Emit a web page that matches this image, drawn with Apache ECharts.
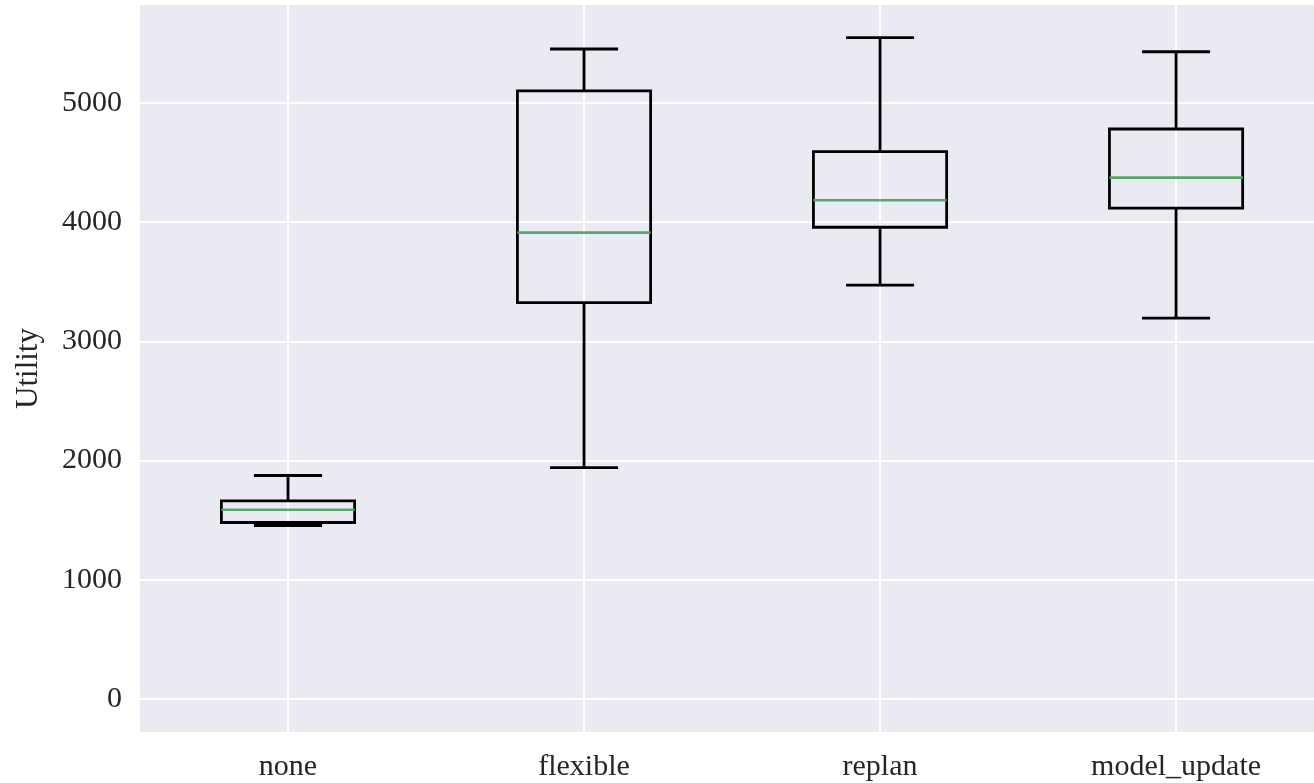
<!DOCTYPE html>
<html>
<head>
<meta charset="utf-8">
<title>Utility</title>
<script src="https://cdn.jsdelivr.net/npm/echarts@6/dist/echarts.min.js"></script>
<style>
  html, body { margin: 0; padding: 0; background: #fff; }
  #chart { width: 1314px; height: 783px; }
</style>
</head>
<body>
<div id="chart"></div>
<script>
var categories = ['none', 'flexible', 'replan', 'model_update'];
var whiskerLow = [1455, 1941, 3470, 3194];
var q1 = [1480, 3324, 3956, 4116];
var median = [1587, 3911, 4183, 4372];
var q3 = [1662, 5099, 4590, 4780];
var whiskerHigh = [1874, 5451, 5546, 5428];
var yTicks = [0, 1000, 2000, 3000, 4000, 5000];

var boxData = categories.map(function (c, i) {
	return [i, whiskerLow[i], q1[i], median[i], q3[i], whiskerHigh[i]];
});

var textColor = '#262626';
var fontFamily = '"Liberation Serif", "Times New Roman", serif';

// matplotlib-like box: half-width caps, green median
function renderBox(params, api) {
	var x = api.value(0);
	var band = api.size([1, 0])[0];
	var halfBox = band * 0.225;
	var halfCap = band * 0.115;
	var pLow = api.coord([x, api.value(1)]);
	var pQ1 = api.coord([x, api.value(2)]);
	var pMed = api.coord([x, api.value(3)]);
	var pQ3 = api.coord([x, api.value(4)]);
	var pHigh = api.coord([x, api.value(5)]);
	var cx = pQ1[0];
	var black = { stroke: '#000', lineWidth: 2.8, fill: null };
	return {
		type: 'group',
		children: [
			{ type: 'line', shape: { x1: cx, y1: pQ1[1], x2: cx, y2: pLow[1] }, style: black },
			{ type: 'line', shape: { x1: cx, y1: pQ3[1], x2: cx, y2: pHigh[1] }, style: black },
			{ type: 'line', shape: { x1: cx - halfCap, y1: pLow[1], x2: cx + halfCap, y2: pLow[1] }, style: black },
			{ type: 'line', shape: { x1: cx - halfCap, y1: pHigh[1], x2: cx + halfCap, y2: pHigh[1] }, style: black },
			{ type: 'rect', shape: { x: cx - halfBox, y: pQ3[1], width: halfBox * 2, height: pQ1[1] - pQ3[1] }, style: { stroke: '#000', lineWidth: 2.8, fill: 'rgba(0,0,0,0)' } },
			{ type: 'line', shape: { x1: cx - halfBox, y1: pMed[1], x2: cx + halfBox, y2: pMed[1] }, style: { stroke: '#55A868', lineWidth: 2.6 } }
		]
	};
}

var option = {
	animation: false,
	backgroundColor: '#ffffff',
	grid: {
		left: 140,
		top: 5,
		right: 0,
		height: 727,
		show: true,
		backgroundColor: '#EAEAF2',
		borderWidth: 0
	},
	xAxis: {
		type: 'value',
		min: -0.5,
		max: 3.466,
		splitNumber: 4,
		axisLine: { show: false },
		axisTick: { show: false },
		axisLabel: {
			margin: 20,
			fontSize: 30,
			fontFamily: fontFamily,
			color: textColor,
			showMinLabel: false,
			showMaxLabel: false,
			formatter: function (v) {
				return categories[v] !== undefined ? categories[v] : '';
			}
		},
		splitLine: {
			show: true,
			showMinLine: false,
			showMaxLine: false,
			lineStyle: { color: '#ffffff', width: 2 }
		}
	},
	yAxis: {
		type: 'value',
		min: -277,
		max: 5820,
		splitNumber: 5,
		name: 'Utility',
		nameLocation: 'middle',
		nameGap: 96,
		nameTextStyle: {
			fontSize: 31,
			fontFamily: fontFamily,
			color: textColor
		},
		axisLine: { show: false },
		axisTick: { show: false },
		axisLabel: {
			margin: 18,
			fontSize: 30,
			fontFamily: fontFamily,
			color: textColor,
			showMinLabel: false,
			showMaxLabel: false,
			formatter: function (v) {
				return yTicks.indexOf(v) >= 0 ? String(v) : '';
			}
		},
		splitLine: {
			show: true,
			showMinLine: false,
			showMaxLine: false,
			lineStyle: { color: '#ffffff', width: 2 }
		}
	},
	series: [{
		type: 'custom',
		renderItem: renderBox,
		encode: { x: 0, y: [1, 2, 3, 4, 5] },
		data: boxData,
		clip: false
	}]
};

var chart = echarts.init(document.getElementById('chart'));
chart.setOption(option);
</script>
</body>
</html>
